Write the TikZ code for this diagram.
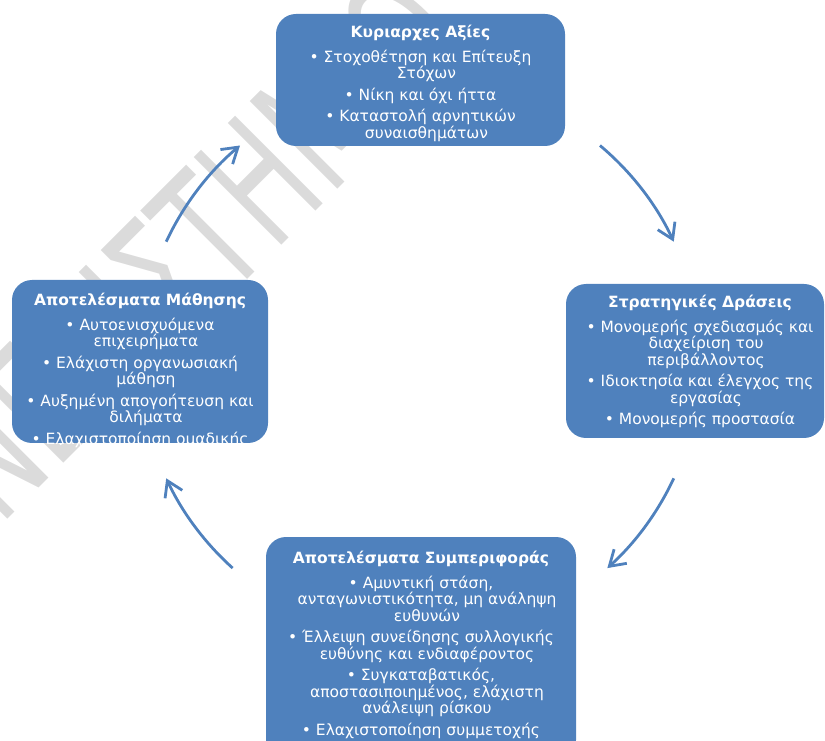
\documentclass[tikz,border=0pt]{standalone}
\usepackage{fontspec}
\setmainfont{DejaVu Sans}
\usetikzlibrary{arrows.meta}
\definecolor{cardblue}{HTML}{4F81BD}
\definecolor{stampgray}{HTML}{DBDBDB}
\newcommand{\firstline}{\rule{0pt}{12pt}}
\newcommand{\cont}{\hspace*{12pt}}
\begin{document}
\begin{tikzpicture}[x=1pt,y=1pt,
  card/.style={fill=cardblue, draw=none, rounded corners=20pt, inner sep=0pt},
  cardtext/.style={text=white, align=center, inner sep=0pt, anchor=north,
    font=\fontsize{15.5}{16.5}\selectfont},
  stampstyle/.style={text=stampgray, inner sep=0pt, anchor=base west,
    font=\fontsize{170}{170}\selectfont},
  cyclearrow/.style={draw=cardblue, line width=2.8pt,
    -{Straight Barb[length=15pt,width=19pt,line width=2.8pt]}}]
\useasboundingbox (0,0) rectangle (825,740);

% watermark behind everything
\node[stampstyle, rotate=45, xscale=0.62] (stamp) at (274,487) {\llap{ΠΑΝΕΠΙΣΤ}ΗΜΙΟ};

% the four stages
\node[card, minimum width=289pt, minimum height=132pt] (values) at (420.5,660) {};
\node[card, minimum width=258pt, minimum height=154pt] (actions) at (695,379) {};
\node[card, minimum width=310pt, minimum height=223pt] (behaviour) at (421,91.5) {};
\node[card, minimum width=256pt, minimum height=163pt] (learning) at (140,378.5) {};

\node[cardtext] (values-t) at ([yshift=-11pt]values.north)
  {\firstline\textbf{Κυριαρχες Αξίες}\\[8.5pt]
   • Στοχοθέτηση και Επίτευξη\\ \cont Στόχων\\[5pt]
   • Νίκη και όχι ήττα\\[5pt]
   • Καταστολή αρνητικών\\ \cont συναισθημάτων\\[5pt]
   • Πίστη και Αφοσίωση};

\node[cardtext] (actions-t) at ([xshift=5pt,yshift=-11pt]actions.north)
  {\firstline\textbf{Στρατηγικές Δράσεις}\\[8.5pt]
   • Μονομερής σχεδιασμός και\\ \cont διαχείριση του\\ \cont περιβάλλοντος\\[5pt]
   • Ιδιοκτησία και έλεγχος της\\ \cont εργασίας\\[5pt]
   • Μονομερής προστασία};

\node[cardtext] (behaviour-t) at ([yshift=-14pt]behaviour.north)
  {\firstline\textbf{Αποτελέσματα Συμπεριφοράς}\\[8.5pt]
   • Αμυντική στάση,\\ \cont ανταγωνιστικότητα, μη ανάληψη\\ \cont ευθυνών\\[5pt]
   • Έλλειψη συνείδησης συλλογικής\\ \cont ευθύνης και ενδιαφέροντος\\[5pt]
   • Συγκαταβατικός,\\ \cont αποστασιποιημένος, ελάχιστη\\ \cont ανάλειψη ρίσκου\\[5pt]
   • Ελαχιστοποίηση συμμετοχής};

\node[cardtext] (learning-t) at ([yshift=-13pt]learning.north)
  {\firstline\textbf{Αποτελέσματα Μάθησης}\\[8.5pt]
   • Αυτοενισχυόμενα\\ \cont επιχειρήματα\\[5pt]
   • Ελάχιστη οργανωσιακή\\ \cont μάθηση\\[5pt]
   • Αυξημένη απογοήτευση και\\ \cont διλήματα\\[5pt]
   • Ελαχιστοποίηση ομαδικής};

% cycle arrows on a common circle
\coordinate (hub) at (420,380);
\draw[cyclearrow] ([shift={(155:280)}]hub) arc[start angle=155, end angle=130, radius=280];
\draw[cyclearrow] ([shift={(50:280)}]hub) arc[start angle=50, end angle=25, radius=280];
\draw[cyclearrow] ([shift={(-25:280)}]hub) arc[start angle=-25, end angle=-48, radius=280];
\draw[cyclearrow] ([shift={(228:280)}]hub) arc[start angle=228, end angle=205, radius=280];
\end{tikzpicture}
\end{document}
